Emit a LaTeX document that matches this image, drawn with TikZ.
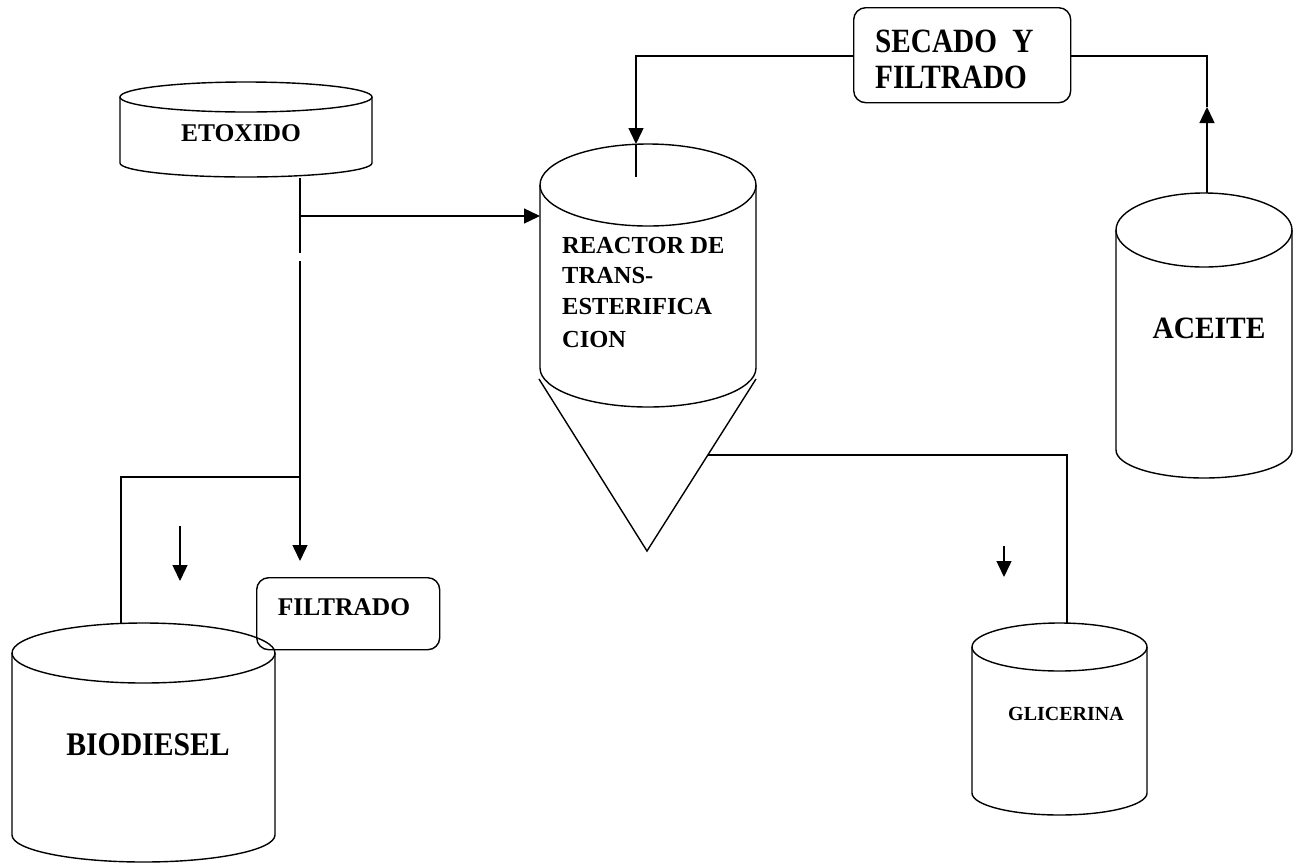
\documentclass[tikz,border=0pt]{standalone}
\usepackage{fontspec}
\setmainfont{Liberation Serif}
\newfontfamily\condA{Liberation Serif}[FakeStretch=0.86]
\newfontfamily\condB{Liberation Serif}[FakeStretch=0.90]
\newfontfamily\condC{Liberation Serif}[FakeStretch=0.95]
\usetikzlibrary{arrows.meta}
\newcommand{\mytank}[6]{%
  \draw[ln] (#1,#3) ellipse[x radius=#2pt, y radius=#5pt];
  \draw[ln] (#1-#2,#3) -- (#1-#2,#4) arc[start angle=180,end angle=360,x radius=#2pt,y radius=#6pt] -- (#1+#2,#3);
}
\begin{document}
\begin{tikzpicture}[x=1pt,y=-1pt,
  ln/.style={line width=1.4pt},
  arr/.style={ln,-{Triangle[length=16pt,width=15pt]}},
  procbox/.style={draw,line width=1.4pt,rounded corners=12pt,inner sep=0pt,anchor=north west},
  lbl/.style={inner sep=0pt,font=\bfseries}]
\useasboundingbox (0,0) rectangle (1296,863);

% tanks
\mytank{246}{126}{97}{163}{15}{14}
\mytank{648}{108}{185}{368}{41}{39}
\mytank{1204}{88}{230}{450}{37}{28}
\mytank{1059.5}{87.5}{647}{793}{24}{22}
\mytank{143.5}{131.5}{653}{835}{30}{27}

% cone of reactor
\coordinate (coneL) at (539,379);
\coordinate (coneTip) at (647,551);
\coordinate (coneR) at (756,379);
\draw[ln] (coneL) -- (coneTip) -- (coneR);

% process boxes
\node[procbox,minimum width=217pt,minimum height=95pt] (secado) at (853,7) {};
\node[procbox,minimum width=183pt,minimum height=72pt] (filtrado) at (256,577) {};

% labels
\node[lbl,anchor=base,font=\bfseries\fontsize{25.5}{30}\selectfont] (etox) at (241,141) {ETOXIDO};
\node[lbl,anchor=base west,font=\bfseries\fontsize{24.5}{30}\selectfont] (re1) at (562,253) {REACTOR DE};
\node[lbl,anchor=base west,font=\bfseries\fontsize{24.5}{30}\selectfont] (re2) at (562,283) {TRANS-};
\node[lbl,anchor=base west,font=\bfseries\fontsize{24.5}{30}\selectfont] (re3) at (562,314) {ESTERIFICA};
\node[lbl,anchor=base west,font=\bfseries\fontsize{24.5}{30}\selectfont] (re4) at (562,347) {CION};
\node[lbl,anchor=base west,font=\condA\bfseries\fontsize{34}{40}\selectfont] (sec1) at (875,52) {SECADO\hspace{0.45em}Y};
\node[lbl,anchor=base west,font=\condA\bfseries\fontsize{34}{40}\selectfont] (sec2) at (875,88) {FILTRADO};
\node[lbl,anchor=base,font=\condC\bfseries\fontsize{31}{36}\selectfont] (aceite) at (1209,338) {ACEITE};
\node[lbl,anchor=base,font=\bfseries\fontsize{25.5}{30}\selectfont] (filtTxt) at (344,615) {FILTRADO};
\node[lbl,anchor=base,font=\condB\bfseries\fontsize{33}{38}\selectfont] (bio) at (148,755) {BIODIESEL};
\node[lbl,anchor=base,font=\bfseries\fontsize{20}{24}\selectfont] (glic) at (1066,720) {GLICERINA};

% connection points
\coordinate (eOut) at (300,178);
\coordinate (eGapA) at (300,253);
\coordinate (eGapB) at (300,261);
\coordinate (jA) at (300,216);
\coordinate (rIn) at (540,216);
\coordinate (jB) at (300,477);
\coordinate (fIn) at (300,561);
\coordinate (bCorner) at (121,477);
\coordinate (bIn) at (121,623);
\coordinate (sL) at (853,56);
\coordinate (sR) at (1070,56);
\coordinate (rCorner) at (636,56);
\coordinate (rTop) at (636,144);
\coordinate (rTopEnd) at (636,177);
\coordinate (aTop) at (1207,193);
\coordinate (aArr) at (1207,107);
\coordinate (aCorner) at (1207,56);
\coordinate (coneOut) at (708,455);
\coordinate (gCorner) at (1067,455);
\coordinate (gTop) at (1067,623);
\coordinate (s1a) at (180,526);
\coordinate (s1b) at (180,581);
\coordinate (s2a) at (1004,546);
\coordinate (s2b) at (1004,577);

% connectors
\draw[ln] (eOut) -- (eGapA);
\draw[arr] (jA) -- (rIn);
\draw[arr] (eGapB) -- (fIn);
\draw[ln] (jB) -- (bCorner) -- (bIn);
\draw[arr] (sL) -- (rCorner) -- (rTop);
\draw[ln] (rTop) -- (rTopEnd);
\draw[arr] (aTop) -- (aArr);
\draw[ln] (aArr) -- (aCorner) -- (sR);
\draw[ln] (coneOut) -- (gCorner) -- (gTop);
\draw[arr] (s1a) -- (s1b);
\draw[arr] (s2a) -- (s2b);
\end{tikzpicture}
\end{document}
